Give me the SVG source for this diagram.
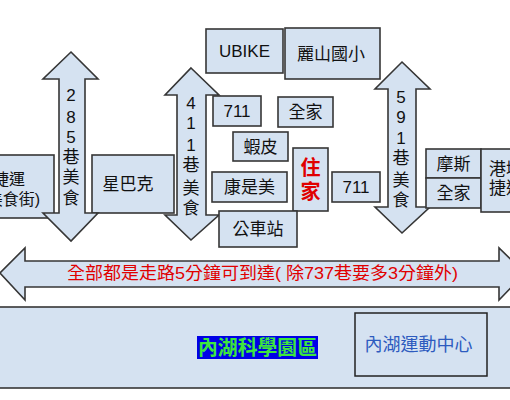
<svg xmlns="http://www.w3.org/2000/svg" width="510" height="400" viewBox="0 0 510 400">
<style>
.bx{fill:#d5e2f1;stroke:#363636;stroke-width:1.6}
.ar{fill:#d5e2f1;stroke:#363636;stroke-width:1.6;stroke-linejoin:miter}
text{font-family:"Liberation Sans","Noto Sans CJK TC",sans-serif;font-size:17px;fill:#111;text-anchor:middle}
.vt{font-size:17px}
</style>
<rect x="0" y="0" width="510" height="400" fill="#ffffff"/>
<g id="bottom-area">
<rect x="-2" y="307" width="514" height="81" class="bx"/>
</g>
<g id="left-metro">
<rect x="-40" y="155" width="94" height="63" class="bx"/>
<text x="25" y="185" style="text-anchor:end;font-size:16px">捷運</text>
<text x="40" y="205" style="text-anchor:end;font-size:16px">(美食街)</text>
</g>
<g id="starbucks">
<rect x="92" y="155" width="82" height="58" class="bx"/>
<text x="128" y="190">星巴克</text>
</g>
<g id="connectors">
<path id="arrow-285" class="ar" d="M71,52 L98,79 L85,79 L85,213 L98,213 L71,241 L43,213 L59,213 L59,79 L43,79 Z"/>
<path id="arrow-411" class="ar" d="M191,68 L219,95 L206,95 L206,215 L219,215 L191,240 L165,215 L177,215 L177,95 L165,95 Z"/>
<path id="arrow-591" class="ar" d="M402,62 L430,89 L416,89 L416,207 L430,207 L402,233 L375,207 L388,207 L388,89 L375,89 Z"/>
<path id="arrow-walk" class="ar" d="M0,273 L25,248 L25,261 L499,261 L499,248 L525,273 L499,300 L499,287 L25,287 L25,300 Z"/>
</g>
<g id="label-285">
<text class="vt" x="71" y="101">2</text>
<text class="vt" x="71" y="123">8</text>
<text class="vt" x="71" y="143">5</text>
<text class="vt" x="71" y="163">巷</text>
<text class="vt" x="71" y="183">美</text>
<text class="vt" x="71" y="204">食</text>
</g>
<g id="label-411">
<text class="vt" x="191" y="109">4</text>
<text class="vt" x="191" y="129">1</text>
<text class="vt" x="191" y="151">1</text>
<text class="vt" x="191" y="171">巷</text>
<text class="vt" x="191" y="194">美</text>
<text class="vt" x="191" y="214">食</text>
</g>
<g id="label-591">
<text class="vt" x="401" y="103">5</text>
<text class="vt" x="401" y="123">9</text>
<text class="vt" x="401" y="144">1</text>
<text class="vt" x="401" y="164">巷</text>
<text class="vt" x="401" y="186">美</text>
<text class="vt" x="401" y="206">食</text>
</g>
<g id="label-walk">
<text x="262.5" y="279" textLength="391" lengthAdjust="spacingAndGlyphs" style="fill:#e00000">全部都是走路5分鐘可到達( 除737巷要多3分鐘外)</text>
</g>
<g id="ubike">
<rect x="206" y="29" width="77" height="44" class="bx"/>
<text x="244.5" y="57">UBIKE</text>
</g>
<g id="lishan-school">
<rect x="285" y="28" width="95" height="51" class="bx"/>
<text x="331" y="60">麗山國小</text>
</g>
<g id="seven-a">
<rect x="213" y="96" width="48" height="30" class="bx"/>
<text x="237" y="117">711</text>
</g>
<g id="family-a">
<rect x="278" y="97" width="55" height="30" class="bx"/>
<text x="305.5" y="118">全家</text>
</g>
<g id="shopee">
<rect x="233" y="132" width="55" height="29" class="bx"/>
<text x="260.5" y="152.5">蝦皮</text>
</g>
<g id="home">
<rect x="293" y="148" width="35" height="63" class="bx"/>
<text x="310.5" y="175" style="fill:#e00000;font-weight:bold;font-size:20px">住</text>
<text x="310.5" y="199" style="fill:#e00000;font-weight:bold;font-size:20px">家</text>
</g>
<g id="cosmed">
<rect x="212" y="172" width="75" height="30" class="bx"/>
<text x="249.5" y="193">康是美</text>
</g>
<g id="seven-b">
<rect x="332" y="172" width="48" height="30" class="bx"/>
<text x="356" y="193">711</text>
</g>
<g id="bus-stop">
<rect x="219" y="211" width="78" height="36" class="bx"/>
<text x="258" y="235">公車站</text>
</g>
<g id="mos">
<rect x="426" y="149" width="55" height="29" class="bx"/>
<text x="453.5" y="169.5">摩斯</text>
</g>
<g id="family-b">
<rect x="426" y="178" width="55" height="30" class="bx"/>
<text x="453.5" y="199">全家</text>
</g>
<g id="gangqian-metro">
<rect x="481" y="149" width="40" height="63" class="bx"/>
<text x="489" y="175" style="text-anchor:start">港墘</text>
<text x="489" y="194" style="text-anchor:start">捷運</text>
</g>
<g id="science-park">
<rect x="197" y="336" width="121" height="23" fill="#0000e6"/>
<text x="257.5" y="355" style="fill:#3ee63e;font-weight:bold;font-size:20px" textLength="119" lengthAdjust="spacingAndGlyphs">內湖科學園區</text>
</g>
<g id="sports-center">
<rect x="355" y="313" width="132" height="63" fill="none" stroke="#222" stroke-width="1.5"/>
<text x="418.5" y="351" style="fill:#2d5bbf;font-size:18px">內湖運動中心</text>
</g>
</svg>
